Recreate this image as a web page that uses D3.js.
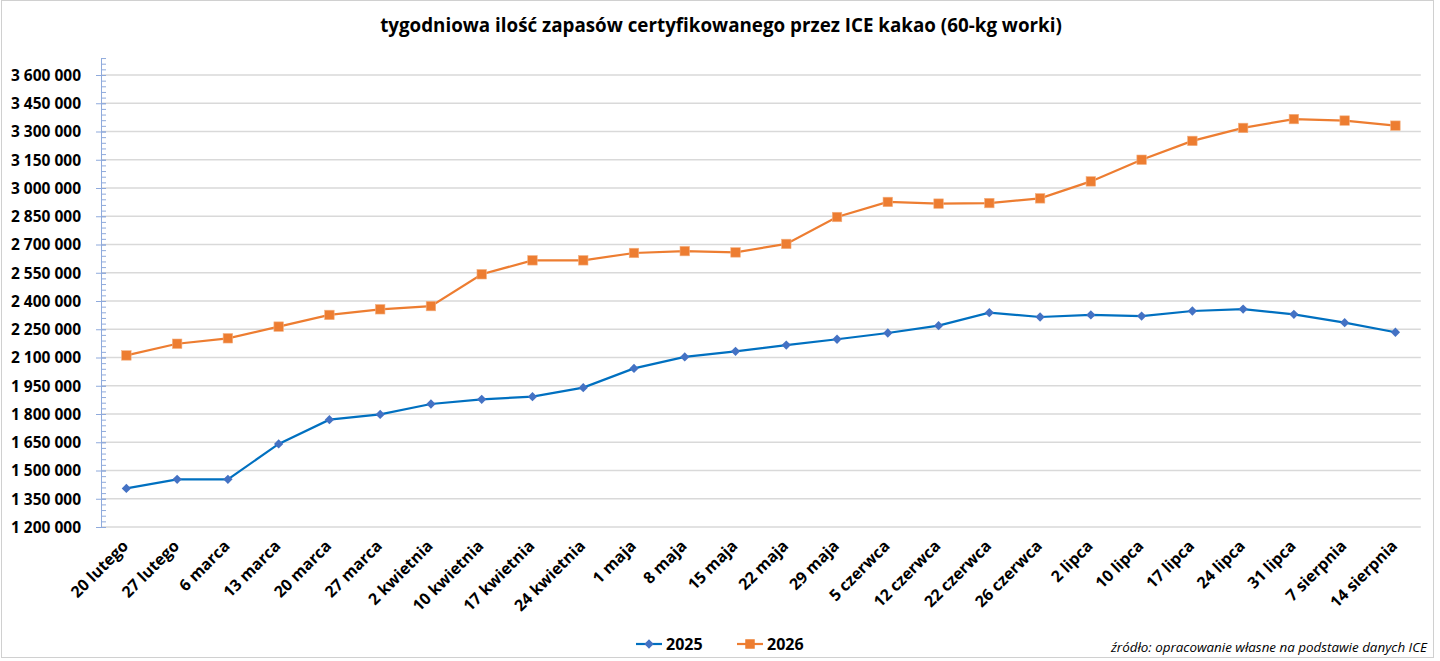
<!DOCTYPE html>
<html>
<head>
<meta charset="utf-8">
<script src="https://cdn.jsdelivr.net/npm/d3@7"></script>
<style>
  html, body { margin: 0; padding: 0; background: #fff; }
  svg text { font-family: "Open Sans", "Liberation Sans", sans-serif; }
</style>
</head>
<body>
<div id="chart"></div>
<script>
// dates (week labels)
var categories = ["20 lutego", "27 lutego", "6 marca", "13 marca", "20 marca", "27 marca",
  "2 kwietnia", "10 kwietnia", "17 kwietnia", "24 kwietnia", "1 maja", "8 maja", "15 maja",
  "22 maja", "29 maja", "5 czerwca", "12 czerwca", "22 czerwca", "26 czerwca", "2 lipca",
  "10 lipca", "17 lipca", "24 lipca", "31 lipca", "7 sierpnia", "14 sierpnia"];

var values2025 = [1405000, 1453000, 1453000, 1641000, 1770000, 1798000, 1853000, 1878000,
  1892000, 1940000, 2042000, 2103000, 2133000, 2166000, 2197000, 2230000, 2269000, 2338000,
  2315000, 2326000, 2320000, 2347000, 2357000, 2329000, 2285000, 2234000];

var values2026 = [2111000, 2173000, 2202000, 2264000, 2326000, 2356000, 2373000, 2542000,
  2616000, 2616000, 2655000, 2665000, 2658000, 2703000, 2846000, 2926000, 2917000, 2920000,
  2945000, 3035000, 3150000, 3250000, 3319000, 3366000, 3358000, 3331000];

var yTicks = [1200000, 1350000, 1500000, 1650000, 1800000, 1950000, 2100000, 2250000,
  2400000, 2550000, 2700000, 2850000, 3000000, 3150000, 3300000, 3450000, 3600000];

var seriesNames = ["2025", "2026"];

var W = 1440, H = 661;
var left = 101, right = 1420.8, bottom = 527;

var svg = d3.select("#chart").append("svg")
  .attr("width", W).attr("height", H);

// chart frame
svg.append("rect")
  .attr("x", 1.5).attr("y", 0.5).attr("width", 1432).attr("height", 657)
  .attr("fill", "#fff").attr("stroke", "#d0d0d0").attr("stroke-width", 1);

var x = d3.scalePoint().domain(categories).range([left, right]).padding(0.5);
var y = d3.scaleLinear().domain([1200000, 3700000]).range([bottom, bottom - 2500000 / 2400000 * 452]);

var fmt = function(v) { return d3.format(",")(v).replace(/,/g, " "); };

// gridlines
svg.append("g").selectAll("line").data(yTicks.slice(1)).enter().append("line")
  .attr("x1", left).attr("x2", right)
  .attr("y1", function(d) { return y(d); }).attr("y2", function(d) { return y(d); })
  .attr("stroke", "#d9d9d9").attr("stroke-width", 1.3);

// x axis baseline
svg.append("line")
  .attr("x1", left).attr("x2", right).attr("y1", y(1200000)).attr("y2", y(1200000))
  .attr("stroke", "#d9d9d9").attr("stroke-width", 1.3);

// y axis with minor ticks
var minor = d3.range(1200000, 3690001, 30000);
var yAxisMinor = d3.axisRight(y).tickValues(minor).tickSize(5).tickFormat("");
var gMinor = svg.append("g").attr("transform", "translate(" + left + ",0)").call(yAxisMinor);
gMinor.select(".domain").remove();
gMinor.selectAll("line").attr("stroke", "#8faadc");

var yAxis = d3.axisLeft(y).tickValues(yTicks).tickSize(5).tickPadding(14).tickFormat(fmt);
var gY = svg.append("g").attr("transform", "translate(" + left + ",0)").call(yAxis);
gY.select(".domain").attr("stroke", "#8faadc").attr("d", "M0.5," + y(3690000) + "V" + bottom);
gY.selectAll(".tick line").attr("stroke", "#8faadc").attr("x2", 5).attr("x1", -5);
gY.selectAll(".tick text")
  .attr("fill", "#000").attr("font-size", 15.5).attr("font-weight", "bold")
  .attr("x", -20).attr("dy", "0.35em");

// x labels, rotated
svg.append("g").selectAll("text").data(categories).enter().append("text")
  .attr("transform", function(d) { return "translate(" + (x(d) + 3) + "," + (bottom + 20) + ") rotate(-45)"; })
  .attr("text-anchor", "end")
  .attr("font-size", 16).attr("font-weight", "bold").attr("fill", "#000")
  .text(function(d) { return d; });

// series
var line = d3.line()
  .x(function(d, i) { return x(categories[i]); })
  .y(function(d) { return y(d); });

svg.append("path").datum(values2025)
  .attr("d", line).attr("fill", "none").attr("stroke", "#0070c0").attr("stroke-width", 2.2);
svg.append("path").datum(values2026)
  .attr("d", line).attr("fill", "none").attr("stroke", "#ed7d31").attr("stroke-width", 2.2);

var diamond = d3.symbol().type(d3.symbolDiamond2).size(55);
svg.append("g").selectAll("path").data(values2025).enter().append("path")
  .attr("d", diamond)
  .attr("transform", function(d, i) { return "translate(" + x(categories[i]) + "," + y(d) + ")"; })
  .attr("fill", "#4472c4");

svg.append("g").selectAll("rect").data(values2026).enter().append("rect")
  .attr("x", function(d, i) { return x(categories[i]) - 4.75; })
  .attr("y", function(d) { return y(d) - 4.75; })
  .attr("width", 9.5).attr("height", 9.5)
  .attr("fill", "#ed7d31").attr("stroke", "#f4b183").attr("stroke-width", 0.6);

// title
svg.append("text")
  .attr("x", 721).attr("y", 32).attr("text-anchor", "middle")
  .attr("font-size", 18.8).attr("font-weight", "bold").attr("fill", "#000")
  .text("tygodniowa ilość zapasów certyfikowanego przez ICE kakao (60-kg worki)");

// legend
var legend = svg.append("g");
var legX = [636, 737];
var legColors = ["#0070c0", "#ed7d31"];
seriesNames.forEach(function(name, i) {
  var g = legend.append("g").attr("transform", "translate(" + legX[i] + ",644)");
  g.append("line").attr("x1", 0).attr("x2", 26).attr("y1", 0).attr("y2", 0)
    .attr("stroke", legColors[i]).attr("stroke-width", 2.2);
  if (i === 0) {
    g.append("path").attr("d", diamond).attr("transform", "translate(13,0)").attr("fill", "#4472c4");
  } else {
    g.append("rect").attr("x", 8.25).attr("y", -4.75).attr("width", 9.5).attr("height", 9.5).attr("fill", "#ed7d31");
  }
  g.append("text").attr("x", 30).attr("y", 0).attr("dy", "0.35em")
    .attr("font-size", 16).attr("font-weight", "bold").attr("fill", "#000")
    .text(name);
});

// source note
svg.append("text")
  .attr("x", 1427).attr("y", 652).attr("text-anchor", "end")
  .attr("font-size", 13.4).attr("font-style", "italic").attr("fill", "#000")
  .text("źródło: opracowanie własne na podstawie danych ICE");
</script>
</body>
</html>
